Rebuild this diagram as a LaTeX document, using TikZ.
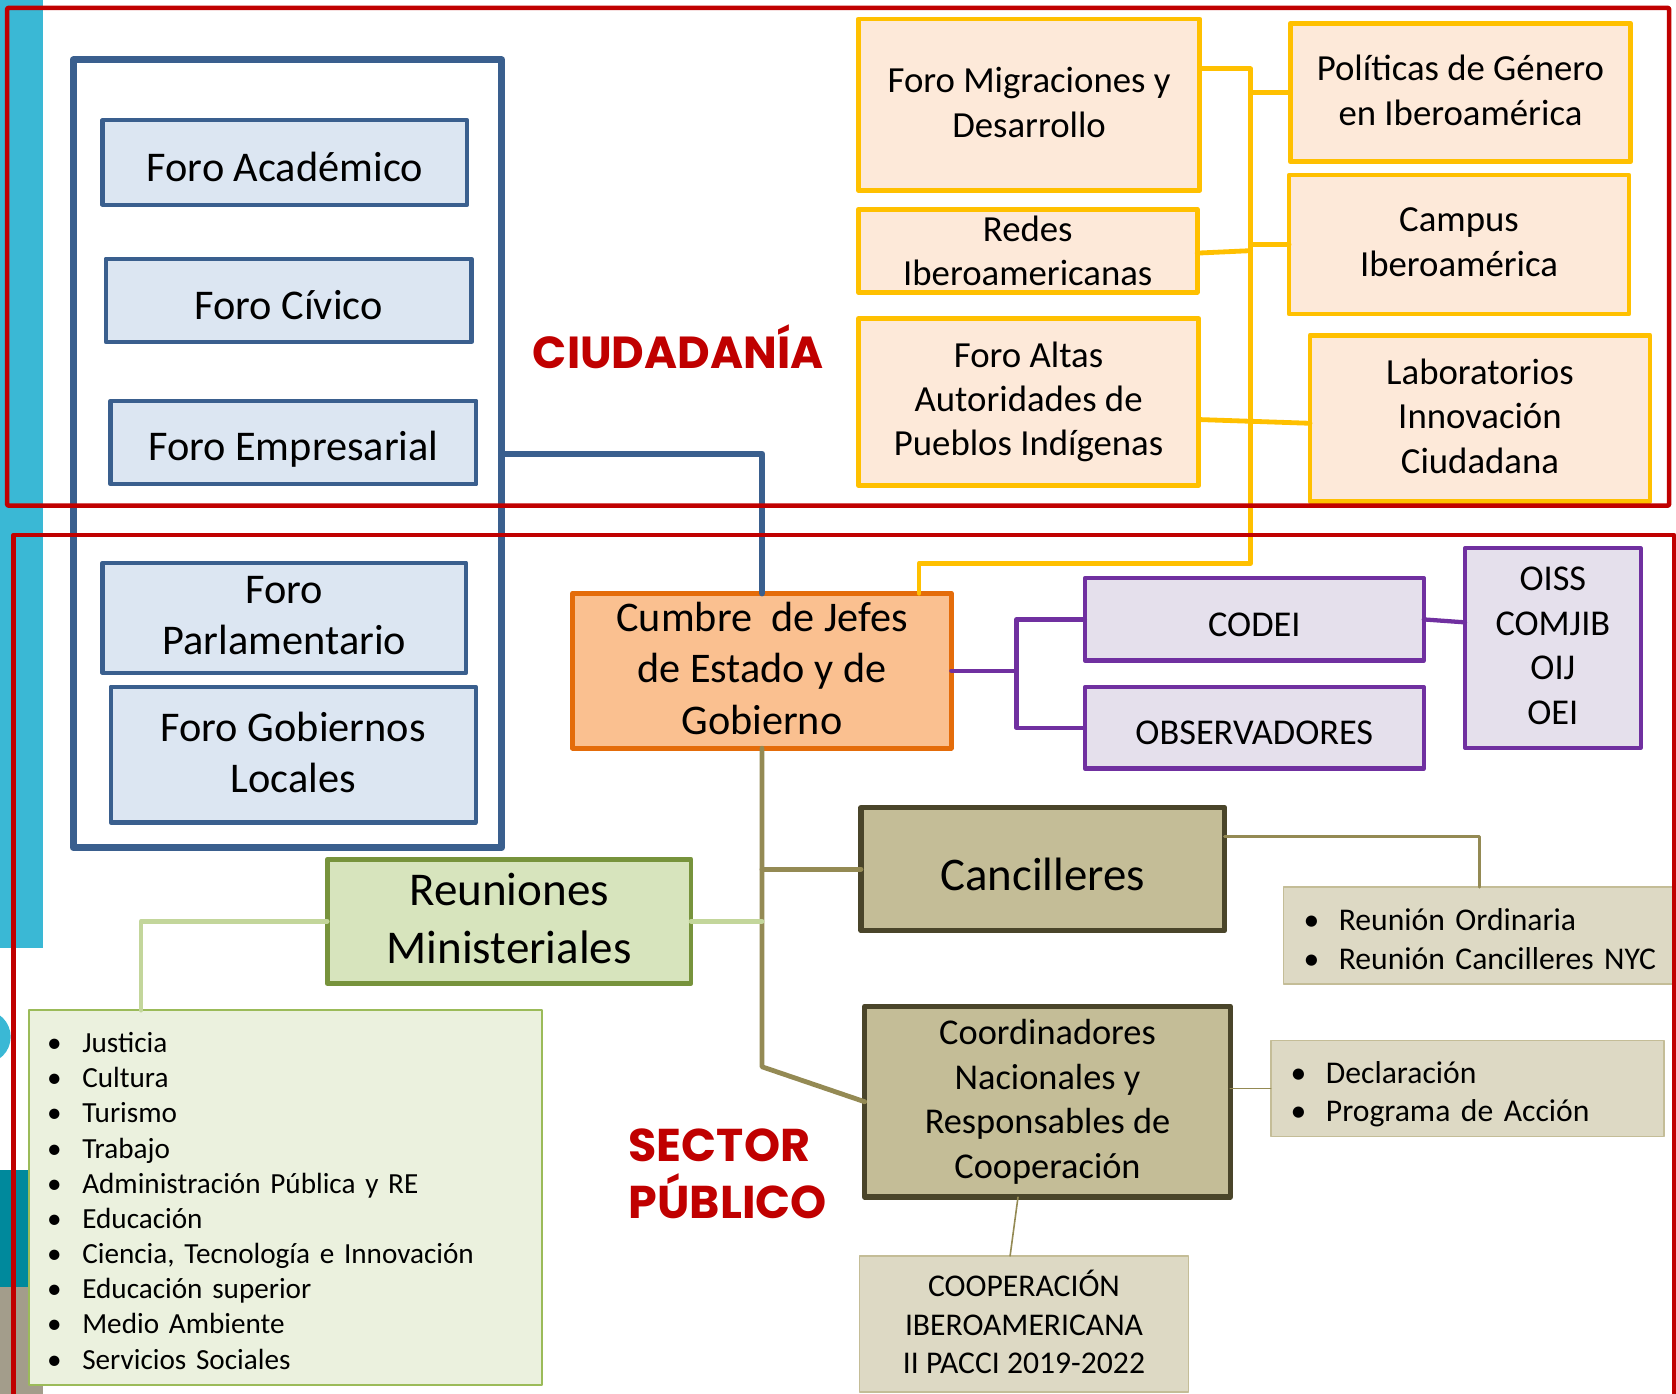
\documentclass[tikz,border=0pt]{standalone}
\usepackage{fontspec}
\setmainfont{Carlito}
\newfontfamily\rotulo{Poppins}
\definecolor{rojo}{HTML}{C00000}
\definecolor{azulborde}{HTML}{3A5F8E}
\definecolor{azulfondo}{HTML}{DCE6F2}
\definecolor{ambar}{HTML}{FFC000}
\definecolor{melocoton}{HTML}{FDE9D9}
\definecolor{naranja}{HTML}{E46C0A}
\definecolor{naranjafondo}{HTML}{FAC090}
\definecolor{morado}{HTML}{7030A0}
\definecolor{lila}{HTML}{E5E0EC}
\definecolor{verde}{HTML}{77933C}
\definecolor{verdefondo}{HTML}{D7E4BD}
\definecolor{verdeclaro}{HTML}{C3D69B}
\definecolor{oliva}{HTML}{948A54}
\definecolor{olivaoscuro}{HTML}{4A452A}
\definecolor{caqui}{HTML}{C4BD97}
\definecolor{arena}{HTML}{DDD9C4}
\definecolor{listafondo}{HTML}{EBF1DE}
\definecolor{listaborde}{HTML}{9BBB59}
\definecolor{cian}{HTML}{3AB8D5}
\definecolor{petroleo}{HTML}{00899C}
\definecolor{pardo}{HTML}{A39D8B}
\newcommand{\punto}[1]{\makebox[33pt][l]{\textbullet}#1}
\newcommand{\puntal}{\rule[-0.1\baselineskip]{0pt}{0.95\baselineskip}}

\begin{document}
\begin{tikzpicture}[line cap=round,line join=round,x=1pt,y=-1pt,
		cajasola/.style={draw,inner sep=0pt,outer sep=0pt,align=center},
		caja/.style={cajasola,execute at begin node=\puntal,execute at end node=\puntal},
		dim/.style 2 args={minimum width=#1pt,minimum height=#2pt},
		forobox/.style={fill=azulfondo,draw=azulborde,line width=4pt,font=\fontsize{39.6}{48}\selectfont},
		ambarbox/.style={fill=melocoton,draw=ambar,line width=4.5pt,font=\fontsize{34.4}{41.6}\selectfont},
		cumbrebox/.style={fill=naranjafondo,draw=naranja,line width=4.5pt,font=\fontsize{39.5}{48}\selectfont},
		orgbox/.style={fill=lila,draw=morado,line width=4pt,font=\fontsize{34}{41.7}\selectfont},
		reunbox/.style={fill=verdefondo,draw=verde,line width=4.5pt,font=\fontsize{44}{54}\selectfont},
		ministbox/.style={fill=caqui,draw=olivaoscuro,line width=5pt,font=\fontsize{34}{42}\selectfont},
		notabox/.style={fill=arena,draw=caqui,line width=1.5pt,font=\fontsize{29.6}{36}\selectfont},
		listabox/.style={fill=listafondo,draw=listaborde,line width=1.5pt,font=\fontsize{27.3}{32.9}\selectfont},
		rotulobox/.style={inner sep=0pt,text=rojo,font=\rotulo\bfseries\fontsize{42}{53.4}\selectfont}]
		\useasboundingbox (0,0) rectangle (1568,1304);
		\fill[cian] (0,0) rectangle (40,887);%fondo
		\fill[cian] (-15,970) circle (25pt);
		\fill[petroleo] (0,1095) rectangle (40,1204);
		\fill[pardo] (0,1204) rectangle (40,1304);
		% foros
		\node[cajasola,draw=azulborde,line width=6.5pt,dim={400.9}{737}] (foros) at (268.95,424.5) {};
		\node[caja,forobox,dim={341}{79}] (acad) at (266.5,152) {Foro Académico};
		\node[caja,forobox,dim={342}{78}] (civico) at (270,281) {Foro Cívico};
		\node[caja,forobox,dim={342}{78}] (empres) at (274.5,414) {Foro Empresarial};
		\node[caja,forobox,dim={340}{103}] (parlam) at (266,578) {Foro\\Parlamentario};
		\node[caja,forobox,dim={341.4}{127}] (gobloc) at (274.3,706) {Foro Gobiernos\\Locales};
		% ciudadania
		\node[caja,ambarbox,dim={319.5}{160.3}] (migr) at (962.75,97.85) {Foro Migraciones y\\Desarrollo};
		\node[cajasola,ambarbox,dim={317}{77.7}] (redes) at (961.5,234.5) {Redes\\Iberoamericanas};
		\node[caja,ambarbox,dim={318.5}{156}] (altas) at (962.3,376) {Foro Altas\\Autoridades de\\Pueblos Indígenas};
		\node[caja,ambarbox,dim={318.6}{129.5}] (polit) at (1366.3,86.65) {Políticas de Género\\en Iberoamérica};
		\node[caja,ambarbox,dim={318}{130}] (campus) at (1365,228.75) {Campus\\Iberoamérica};
		\node[caja,ambarbox,dim={318}{155.4}] (labs) at (1384.6,391.3) {Laboratorios\\Innovación\\Ciudadana};
		% cumbre
		\node[caja,cumbrebox,dim={354.3}{145}] (cumbre) at (712.85,627.5) {Cumbre~ de Jefes\\de Estado y de\\Gobierno};
		\node[caja,orgbox,dim={317}{77}] (codei) at (1173.5,579.5) {CODEI};
		\node[caja,orgbox,dim={317}{76}] (obs) at (1173.5,681) {OBSERVADORES};
		\node[caja,orgbox,dim={164.4}{186.5}] (oiss) at (1452.8,606.25) {OISS\\COMJIB\\OIJ\\OEI};
		% sector publico
		\node[caja,reunbox,dim={340.5}{116}] (reun) at (476.3,862) {Reuniones\\Ministeriales};
		\node[caja,ministbox,dim={340.2}{115.2},font=\fontsize{43.8}{53}\selectfont] (canc) at (975.6,813.1) {Cancilleres};
		\node[caja,ministbox,dim={342}{178.5}] (coord) at (980,1030.75) {Coordinadores\\Nacionales y\\Responsables de\\Cooperación};
		\node[caja,notabox,dim={397.8}{90.8},text width=360pt,align=left,inner xsep=18.9pt] (notacanc) at (1399.5,875.4) {\punto{Reunión Ordinaria}\\\punto{Reunión Cancilleres NYC}};
		\node[caja,notabox,dim={368}{89.8},text width=330.6pt,align=left,inner xsep=18.7pt] (notacoord) at (1372.8,1018.5) {\punto{Declaración}\\\punto{Programa de Acción}};
		\node[caja,notabox,dim={308}{127}] (pacci) at (958,1238.5) {COOPERACIÓN\\IBEROAMERICANA\\II PACCI 2019-2022};
		\node[caja,listabox,dim={480}{351},text width=446pt,align=left,inner xsep=17pt] (lista) at (267,1120.5) {\punto{Justicia}\\\punto{Cultura}\\\punto{Turismo}\\\punto{Trabajo}\\\punto{Administración Pública y RE}\\\punto{Educación}\\\punto{Ciencia, Tecnología e Innovación}\\\punto{Educación superior}\\\punto{Medio Ambiente}\\\punto{Servicios Sociales}};
		% rotulos
		\node[rotulobox,anchor=base] (ciudadania) at (634.5,344.6) {CIUDADANÍA};
		\node[rotulobox,align=left,anchor=west,font=\rotulo\bfseries\fontsize{43}{53.4}\selectfont,execute at begin node=\strut,execute at end node=\strut] (sector) at (588,1106) {SECTOR\\PÚBLICO};
		% conectores
		\draw[azulborde,line width=6pt] (foros.east) -| (cumbre.north);
		\coordinate (ybot) at (1170,527);
		\draw[ambar,line width=4.5pt] ([yshift=33.4pt]migr.east) -| (ybot) -| ([xshift=147pt]cumbre.north);
		\draw[ambar,line width=4.5pt] (polit.west) -- (polit.west -| ybot);
		\draw[ambar,line width=4.5pt] ([yshift=-2.3pt]redes.east) -- (redes.east -| ybot);
		\draw[ambar,line width=4.5pt] (campus.west) -- (campus.west -| ybot);
		\draw[ambar,line width=4.5pt] ([yshift=-16.5pt]altas.east) -- ([yshift=-4.7pt]labs.west);
		\coordinate (pj) at ([xshift=61pt]cumbre.east);
		\draw[morado,line width=4pt] (cumbre.east) -- (pj);
		\draw[morado,line width=4pt] (codei.west) -| (pj) |- (obs.west);
		\draw[morado,line width=4pt] (codei.east) -- ([yshift=24pt]oiss.west);
		\coordinate (codo) at ([yshift=-298pt]cumbre.south);
		\draw[oliva,line width=4.5pt] (cumbre.south) -- (codo) -- (coord.west);
		\draw[oliva,line width=4.5pt] (canc.west) -- (canc.west -| cumbre.south);
		\draw[verdeclaro,line width=4.5pt] (reun.east) -- (reun.east -| cumbre.south);
		\draw[verdeclaro,line width=4.5pt] (reun.west) -| ([xshift=105pt]lista.north west);
		\draw[oliva,line width=2.7pt] ([yshift=30.3pt]canc.east) -| ([xshift=183.7pt]notacanc.north west);
		\draw[oliva,line width=1.5pt] (notacoord.west) -- (notacoord.west -| coord.east);
		\draw[oliva,line width=1.5pt] ([xshift=-27.6pt]coord.south) -- ([xshift=-13pt]pacci.north);
		% marcos
		\draw[rojo,line width=4.3pt,rounded corners=1pt] (6.7,7.4) rectangle (1561.5,473);
		\draw[rojo,line width=4.3pt] (12.7,1310) -- (12.7,500.5) -- (1566,500.5) -- (1566,1310);
\end{tikzpicture}
\end{document}
